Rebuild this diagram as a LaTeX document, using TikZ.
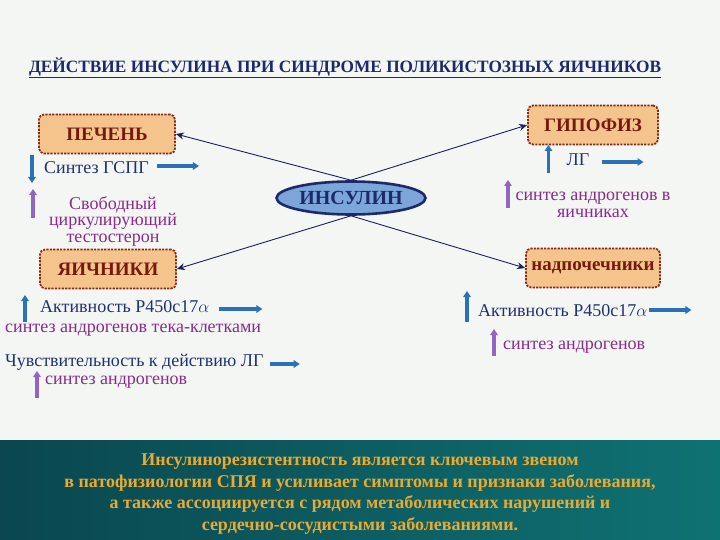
\documentclass[tikz,border=0pt]{standalone}
\usepackage{fontspec}
\setmainfont{Liberation Serif}
\usetikzlibrary{shapes.geometric,arrows.meta,positioning}
\definecolor{pagebg}{HTML}{F4F6F4}
\definecolor{boxfill}{HTML}{F5C48C}
\definecolor{boxline}{HTML}{8A2A14}
\definecolor{boxtext}{HTML}{761A10}
\definecolor{insfill}{HTML}{7CA6DA}
\definecolor{navy}{HTML}{1C2A6C}
\definecolor{linkcol}{HTML}{1A2060}
\definecolor{arrblue}{HTML}{2A72B8}
\definecolor{arrpurple}{HTML}{9464C4}
\definecolor{txtblue}{HTML}{1E3272}
\definecolor{txtpurple}{HTML}{8A2A8C}
\definecolor{tealdark}{HTML}{0A4750}
\definecolor{teallight}{HTML}{0F7272}
\definecolor{gold}{HTML}{EAAA32}
\tikzset{
  organ/.style={draw=boxline, line width=1.8pt, dash pattern=on 2.2pt off 1.2pt, fill=boxfill,
    rounded corners=5pt, minimum width=136pt, minimum height=39pt, inner sep=1pt,
    font=\fontsize{19}{19}\selectfont\bfseries, text=boxtext},
  link/.style={-{Stealth[length=8pt,width=7pt]}, draw=linkcol, line width=0.9pt},
  bluearr/.style={-{Triangle[length=6pt,width=7.5pt]}, draw=arrblue, line width=3.2pt},
  purplearr/.style={-{Triangle[length=6pt,width=7.5pt]}, draw=arrpurple, line width=3.2pt},
  bluetxt/.style={text=txtblue, font=\fontsize{18}{18}\selectfont, inner sep=0pt},
  purpletxt/.style={text=txtpurple, font=\fontsize{18}{18}\selectfont, inner sep=0pt}
}
\begin{document}
\begin{tikzpicture}[x=1pt,y=-1pt]
  \fill[pagebg] (0,0) rectangle (720,540);
  \shade[left color=tealdark, right color=teallight] (0,440) rectangle (720,540);
  \useasboundingbox (0,0) rectangle (720,540);

  \node[text=navy, font=\fontsize{17.3}{17}\selectfont\bfseries] (title) at (345,68)
    {\underline{ДЕЙСТВИЕ ИНСУЛИНА ПРИ СИНДРОМЕ ПОЛИКИСТОЗНЫХ ЯИЧНИКОВ}};

  \node[ellipse, draw=navy, line width=2.6pt, fill=insfill, minimum width=148pt, minimum height=33pt,
    inner sep=1pt, text=navy, font=\fontsize{20}{20}\selectfont\bfseries] (ins) at (351,198) {ИНСУЛИН};

  \node[organ] (liver) at (107,134) {ПЕЧЕНЬ};
  \node[organ] (ovary) at (108,269) {ЯИЧНИКИ};
  \node[organ, minimum width=130pt] (pit) at (593,125) {ГИПОФИЗ};
  \node[organ, minimum width=134pt] (adr) at (593,268) {надпочечники};

  \draw[link] (ins.north) -- (liver.east);
  \draw[link] (ins.north) -- (pit.west);
  \draw[link] (ins.south) -- (ovary.east);
  \draw[link] (ins.south) -- (adr.west);

  % печень
  \node[bluetxt, anchor=west] (shbg) at (44,168) {Синтез ГСПГ};
  \draw[bluearr] (shbg.west) ++(-12,-13) -- ++(0,28);
  \draw[bluearr] (shbg.east) ++(8,-2) -- ++(42,0);
  \node[purpletxt, align=center] (freet) at (113,221) {Свободный\\[-1.5pt]циркулирующий\\[-1.5pt]тестостерон};
  \draw[purplearr] (33,218) -- (33,189);

  % яичники
  \node[bluetxt, anchor=west] (p450a) at (40,307) {Активность Р450с17$\alpha$};
  \draw[bluearr] (p450a.west) ++(-15,15) -- ++(0,-27);
  \draw[bluearr] (p450a.east) ++(10,2) -- ++(43,0);
  \node[purpletxt, anchor=west] (theca) at (5,330) {синтез андрогенов тека-клетками};
  \node[bluetxt, anchor=west] (sens) at (5,362) {Чувствительность к действию ЛГ};
  \draw[bluearr] (sens.east) ++(6,2) -- ++(30,0);
  \node[purpletxt, anchor=west] (andr1) at (45,382) {синтез андрогенов};
  \draw[purplearr] (andr1.west) ++(-8,16) -- ++(0,-27);

  % гипофиз
  \node[bluetxt] (lh) at (578,160) {ЛГ};
  \draw[bluearr] (lh.west) ++(-18,13) -- ++(0,-28);
  \draw[bluearr] (lh.east) ++(12,2) -- ++(42,0);
  \node[purpletxt, align=center] (andr2) at (593,205) {синтез андрогенов в\\[-1.5pt]яичниках};
  \draw[purplearr] (508,208) -- (508,180);

  % надпочечники
  \node[bluetxt, anchor=west] (p450b) at (478,311) {Активность Р450с17$\alpha$};
  \draw[bluearr] (p450b.west) ++(-11,11) -- ++(0,-31);
  \draw[bluearr] (p450b.east) ++(2,-1) -- ++(42,0);
  \node[purpletxt, anchor=west] (andr3) at (503,347) {синтез андрогенов};
  \draw[purplearr] (andr3.west) ++(-9,9) -- ++(0,-27);

  \node[text=gold, align=center, font=\fontsize{18}{21.7}\selectfont\bfseries] (summary) at (360,494)
    {Инсулинорезистентность является ключевым звеном\\
     в патофизиологии СПЯ и усиливает симптомы и признаки заболевания,\\
     а также ассоциируется с рядом метаболических нарушений и\\
     сердечно-сосудистыми заболеваниями.};
\end{tikzpicture}
\end{document}
